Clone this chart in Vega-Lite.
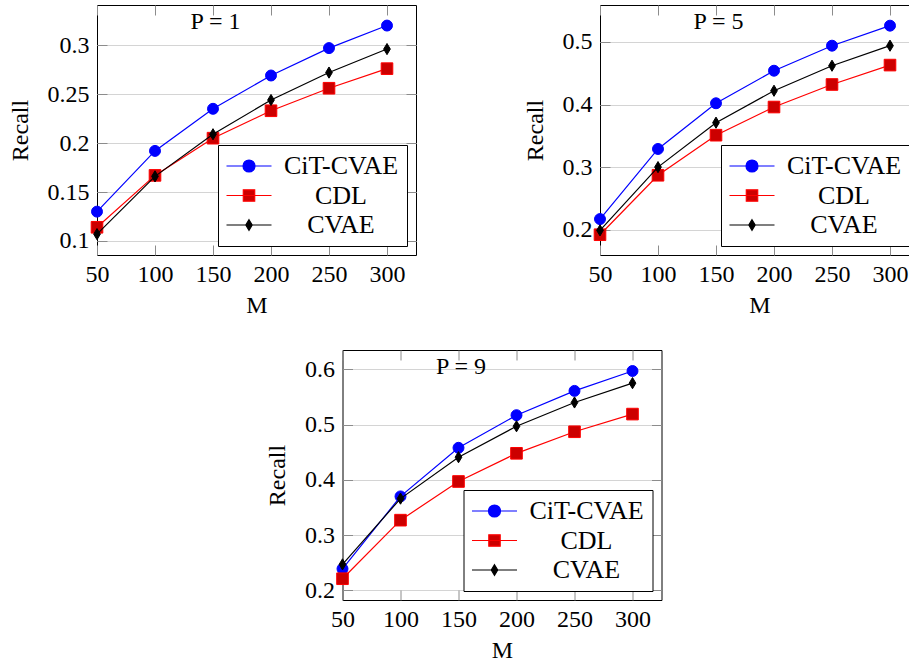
{
  "$schema": "https://vega.github.io/schema/vega-lite/v6.json",
  "padding": {"left": 7, "top": 4, "right": 0, "bottom": 0},
  "background": "white",
  "data": {"values": [
    {"P": 1, "M": 50, "method": "CiT-CVAE", "Recall": 0.130},
    {"P": 1, "M": 100, "method": "CiT-CVAE", "Recall": 0.192},
    {"P": 1, "M": 150, "method": "CiT-CVAE", "Recall": 0.235},
    {"P": 1, "M": 200, "method": "CiT-CVAE", "Recall": 0.269},
    {"P": 1, "M": 250, "method": "CiT-CVAE", "Recall": 0.297},
    {"P": 1, "M": 300, "method": "CiT-CVAE", "Recall": 0.320},
    {"P": 1, "M": 50, "method": "CDL", "Recall": 0.114},
    {"P": 1, "M": 100, "method": "CDL", "Recall": 0.167},
    {"P": 1, "M": 150, "method": "CDL", "Recall": 0.205},
    {"P": 1, "M": 200, "method": "CDL", "Recall": 0.233},
    {"P": 1, "M": 250, "method": "CDL", "Recall": 0.256},
    {"P": 1, "M": 300, "method": "CDL", "Recall": 0.276},
    {"P": 1, "M": 50, "method": "CVAE", "Recall": 0.107},
    {"P": 1, "M": 100, "method": "CVAE", "Recall": 0.166},
    {"P": 1, "M": 150, "method": "CVAE", "Recall": 0.209},
    {"P": 1, "M": 200, "method": "CVAE", "Recall": 0.244},
    {"P": 1, "M": 250, "method": "CVAE", "Recall": 0.272},
    {"P": 1, "M": 300, "method": "CVAE", "Recall": 0.296},
    {"P": 5, "M": 50, "method": "CiT-CVAE", "Recall": 0.217},
    {"P": 5, "M": 100, "method": "CiT-CVAE", "Recall": 0.329},
    {"P": 5, "M": 150, "method": "CiT-CVAE", "Recall": 0.402},
    {"P": 5, "M": 200, "method": "CiT-CVAE", "Recall": 0.454},
    {"P": 5, "M": 250, "method": "CiT-CVAE", "Recall": 0.494},
    {"P": 5, "M": 300, "method": "CiT-CVAE", "Recall": 0.526},
    {"P": 5, "M": 50, "method": "CDL", "Recall": 0.192},
    {"P": 5, "M": 100, "method": "CDL", "Recall": 0.287},
    {"P": 5, "M": 150, "method": "CDL", "Recall": 0.351},
    {"P": 5, "M": 200, "method": "CDL", "Recall": 0.396},
    {"P": 5, "M": 250, "method": "CDL", "Recall": 0.432},
    {"P": 5, "M": 300, "method": "CDL", "Recall": 0.463},
    {"P": 5, "M": 50, "method": "CVAE", "Recall": 0.199},
    {"P": 5, "M": 100, "method": "CVAE", "Recall": 0.300},
    {"P": 5, "M": 150, "method": "CVAE", "Recall": 0.371},
    {"P": 5, "M": 200, "method": "CVAE", "Recall": 0.422},
    {"P": 5, "M": 250, "method": "CVAE", "Recall": 0.462},
    {"P": 5, "M": 300, "method": "CVAE", "Recall": 0.494},
    {"P": 9, "M": 50, "method": "CiT-CVAE", "Recall": 0.239},
    {"P": 9, "M": 100, "method": "CiT-CVAE", "Recall": 0.370},
    {"P": 9, "M": 150, "method": "CiT-CVAE", "Recall": 0.458},
    {"P": 9, "M": 200, "method": "CiT-CVAE", "Recall": 0.517},
    {"P": 9, "M": 250, "method": "CiT-CVAE", "Recall": 0.561},
    {"P": 9, "M": 300, "method": "CiT-CVAE", "Recall": 0.597},
    {"P": 9, "M": 50, "method": "CDL", "Recall": 0.221},
    {"P": 9, "M": 100, "method": "CDL", "Recall": 0.327},
    {"P": 9, "M": 150, "method": "CDL", "Recall": 0.397},
    {"P": 9, "M": 200, "method": "CDL", "Recall": 0.448},
    {"P": 9, "M": 250, "method": "CDL", "Recall": 0.487},
    {"P": 9, "M": 300, "method": "CDL", "Recall": 0.519},
    {"P": 9, "M": 50, "method": "CVAE", "Recall": 0.247},
    {"P": 9, "M": 100, "method": "CVAE", "Recall": 0.366},
    {"P": 9, "M": 150, "method": "CVAE", "Recall": 0.441},
    {"P": 9, "M": 200, "method": "CVAE", "Recall": 0.497},
    {"P": 9, "M": 250, "method": "CVAE", "Recall": 0.540},
    {"P": 9, "M": 300, "method": "CVAE", "Recall": 0.575}
  ]},
  "vconcat": [
    {
      "hconcat": [
        {
          "width": 319, "height": 250,
          "title": {"text": "P = 1", "offset": 0, "dy": 29, "dx": -41},
          "transform": [{"filter": "datum.P == 1"}],
          "layer": [
            {
              "transform": [{"filter": "datum.method == 'CiT-CVAE'"}],
              "mark": {"type": "line", "color": "#0000ff", "strokeWidth": 1.2, "point": {"filled": true, "shape": "circle", "size": 120, "fill": "#0000ff", "stroke": "#0000ff", "strokeWidth": 1, "opacity": 1}},
              "encoding": {
                "x": {"field": "M", "type": "quantitative", "scale": {"domain": [50, 325], "nice": false, "zero": false}, "axis": {"values": [50, 100, 150, 200, 250, 300], "title": "M", "orient": "bottom"}},
                "y": {"field": "Recall", "type": "quantitative", "scale": {"domain": [0.0857, 0.341], "nice": false, "zero": false}, "axis": {"values": [0.1, 0.15, 0.2, 0.25, 0.3], "format": "~g", "title": "Recall", "orient": "left", "grid": true}}
              }
            },
            {
              "transform": [{"filter": "datum.method == 'CDL'"}],
              "mark": {"type": "line", "color": "#ff0000", "strokeWidth": 1.2, "point": {"filled": true, "shape": "square", "size": 135, "fill": "#cc0000", "stroke": "#ff0000", "strokeWidth": 1, "opacity": 1}},
              "encoding": {
                "x": {"field": "M", "type": "quantitative", "axis": null},
                "y": {"field": "Recall", "type": "quantitative", "axis": null}
              }
            },
            {
              "transform": [{"filter": "datum.method == 'CVAE'"}],
              "mark": {"type": "line", "color": "#000000", "strokeWidth": 1.2, "point": {"filled": true, "shape": "M0,-1L0.6,0L0,1L-0.6,0Z", "size": 125, "fill": "#000000", "stroke": "#000000", "strokeWidth": 1, "opacity": 1}},
              "encoding": {
                "x": {"field": "M", "type": "quantitative", "axis": null},
                "y": {"field": "Recall", "type": "quantitative", "axis": null}
              }
            },
            {
              "transform": [{"filter": "false"}],
              "mark": {"type": "point", "filled": true, "opacity": 1},
              "encoding": {
                "x": {"field": "M", "type": "quantitative", "axis": {"values": [50, 100, 150, 200, 250, 300], "orient": "top", "labels": false, "title": null, "grid": false}},
                "y": {"field": "Recall", "type": "quantitative", "axis": {"values": [0.1, 0.15, 0.2, 0.25, 0.3], "orient": "right", "labels": false, "title": null, "grid": false}},
                "fill": {"field": "method", "type": "nominal", "scale": {"domain": ["CiT-CVAE", "CDL", "CVAE"], "range": ["#0000ff", "#cc0000", "#000000"]}},
                "stroke": {"field": "method", "type": "nominal", "scale": {"domain": ["CiT-CVAE", "CDL", "CVAE"], "range": ["#0000ff", "#ff0000", "#000000"]}},
                "shape": {"field": "method", "type": "nominal", "scale": {"domain": ["CiT-CVAE", "CDL", "CVAE"], "range": ["M-2.25,0H2.25M0.6,0A0.6,0.6,0,1,1,-0.6,0A0.6,0.6,0,1,1,0.6,0Z", "M-2.25,0H2.25M-0.57,-0.57H0.57V0.57H-0.57Z", "M-2.25,0H2.25M0,-0.53L0.32,0L0,0.53L-0.32,0Z"]}}
              }
            }
          ],
          "resolve": {"axis": {"x": "independent", "y": "independent"}}
        },
        {
          "width": 319, "height": 250,
          "title": {"text": "P = 5", "offset": 0, "dy": 29, "dx": -41},
          "transform": [{"filter": "datum.P == 5"}],
          "layer": [
            {
              "transform": [{"filter": "datum.method == 'CiT-CVAE'"}],
              "mark": {"type": "line", "color": "#0000ff", "strokeWidth": 1.2, "point": {"filled": true, "shape": "circle", "size": 120, "fill": "#0000ff", "stroke": "#0000ff", "strokeWidth": 1, "opacity": 1}},
              "encoding": {
                "x": {"field": "M", "type": "quantitative", "scale": {"domain": [50, 325], "nice": false, "zero": false}, "axis": {"values": [50, 100, 150, 200, 250, 300], "title": "M", "orient": "bottom"}},
                "y": {"field": "Recall", "type": "quantitative", "scale": {"domain": [0.1596, 0.559], "nice": false, "zero": false}, "axis": {"values": [0.2, 0.3, 0.4, 0.5], "format": "~g", "title": "Recall", "orient": "left", "grid": true}}
              }
            },
            {
              "transform": [{"filter": "datum.method == 'CDL'"}],
              "mark": {"type": "line", "color": "#ff0000", "strokeWidth": 1.2, "point": {"filled": true, "shape": "square", "size": 135, "fill": "#cc0000", "stroke": "#ff0000", "strokeWidth": 1, "opacity": 1}},
              "encoding": {
                "x": {"field": "M", "type": "quantitative", "axis": null},
                "y": {"field": "Recall", "type": "quantitative", "axis": null}
              }
            },
            {
              "transform": [{"filter": "datum.method == 'CVAE'"}],
              "mark": {"type": "line", "color": "#000000", "strokeWidth": 1.2, "point": {"filled": true, "shape": "M0,-1L0.6,0L0,1L-0.6,0Z", "size": 125, "fill": "#000000", "stroke": "#000000", "strokeWidth": 1, "opacity": 1}},
              "encoding": {
                "x": {"field": "M", "type": "quantitative", "axis": null},
                "y": {"field": "Recall", "type": "quantitative", "axis": null}
              }
            },
            {
              "transform": [{"filter": "false"}],
              "mark": {"type": "point", "filled": true, "opacity": 1},
              "encoding": {
                "x": {"field": "M", "type": "quantitative", "axis": {"values": [50, 100, 150, 200, 250, 300], "orient": "top", "labels": false, "title": null, "grid": false}},
                "y": {"field": "Recall", "type": "quantitative", "axis": {"values": [0.2, 0.3, 0.4, 0.5], "orient": "right", "labels": false, "title": null, "grid": false}},
                "fill": {"field": "method", "type": "nominal", "scale": {"domain": ["CiT-CVAE", "CDL", "CVAE"], "range": ["#0000ff", "#cc0000", "#000000"]}},
                "stroke": {"field": "method", "type": "nominal", "scale": {"domain": ["CiT-CVAE", "CDL", "CVAE"], "range": ["#0000ff", "#ff0000", "#000000"]}},
                "shape": {"field": "method", "type": "nominal", "scale": {"domain": ["CiT-CVAE", "CDL", "CVAE"], "range": ["M-2.25,0H2.25M0.6,0A0.6,0.6,0,1,1,-0.6,0A0.6,0.6,0,1,1,0.6,0Z", "M-2.25,0H2.25M-0.57,-0.57H0.57V0.57H-0.57Z", "M-2.25,0H2.25M0,-0.53L0.32,0L0,0.53L-0.32,0Z"]}}
              }
            }
          ],
          "resolve": {"axis": {"x": "independent", "y": "independent"}}
        }
      ],
      "spacing": 105,
      "resolve": {"scale": {"fill": "independent", "stroke": "independent", "shape": "independent"}}
    },
    {
      "width": 319, "height": 250,
      "title": {"text": "P = 9", "offset": 0, "dy": 29, "dx": -41},
      "transform": [{"filter": "datum.P == 9"}],
      "layer": [
        {
          "transform": [{"filter": "datum.method == 'CiT-CVAE'"}],
          "mark": {"type": "line", "color": "#0000ff", "strokeWidth": 1.2, "point": {"filled": true, "shape": "circle", "size": 120, "fill": "#0000ff", "stroke": "#0000ff", "strokeWidth": 1, "opacity": 1}},
          "encoding": {
            "x": {"field": "M", "type": "quantitative", "scale": {"domain": [50, 325], "nice": false, "zero": false}, "axis": {"values": [50, 100, 150, 200, 250, 300], "title": "M", "orient": "bottom"}},
            "y": {"field": "Recall", "type": "quantitative", "scale": {"domain": [0.1825, 0.635], "nice": false, "zero": false}, "axis": {"values": [0.2, 0.3, 0.4, 0.5, 0.6], "format": "~g", "title": "Recall", "orient": "left", "grid": true}}
          }
        },
        {
          "transform": [{"filter": "datum.method == 'CDL'"}],
          "mark": {"type": "line", "color": "#ff0000", "strokeWidth": 1.2, "point": {"filled": true, "shape": "square", "size": 135, "fill": "#cc0000", "stroke": "#ff0000", "strokeWidth": 1, "opacity": 1}},
          "encoding": {
            "x": {"field": "M", "type": "quantitative", "axis": null},
            "y": {"field": "Recall", "type": "quantitative", "axis": null}
          }
        },
        {
          "transform": [{"filter": "datum.method == 'CVAE'"}],
          "mark": {"type": "line", "color": "#000000", "strokeWidth": 1.2, "point": {"filled": true, "shape": "M0,-1L0.6,0L0,1L-0.6,0Z", "size": 125, "fill": "#000000", "stroke": "#000000", "strokeWidth": 1, "opacity": 1}},
          "encoding": {
            "x": {"field": "M", "type": "quantitative", "axis": null},
            "y": {"field": "Recall", "type": "quantitative", "axis": null}
          }
        },
        {
          "transform": [{"filter": "false"}],
          "mark": {"type": "point", "filled": true, "opacity": 1},
          "encoding": {
            "x": {"field": "M", "type": "quantitative", "axis": {"values": [50, 100, 150, 200, 250, 300], "orient": "top", "labels": false, "title": null, "grid": false}},
            "y": {"field": "Recall", "type": "quantitative", "axis": {"values": [0.2, 0.3, 0.4, 0.5, 0.6], "orient": "right", "labels": false, "title": " ", "titleFontSize": 6, "titlePadding": 6, "grid": false}},
            "fill": {"field": "method", "type": "nominal", "scale": {"domain": ["CiT-CVAE", "CDL", "CVAE"], "range": ["#0000ff", "#cc0000", "#000000"]}},
            "stroke": {"field": "method", "type": "nominal", "scale": {"domain": ["CiT-CVAE", "CDL", "CVAE"], "range": ["#0000ff", "#ff0000", "#000000"]}},
            "shape": {"field": "method", "type": "nominal", "scale": {"domain": ["CiT-CVAE", "CDL", "CVAE"], "range": ["M-2.25,0H2.25M0.6,0A0.6,0.6,0,1,1,-0.6,0A0.6,0.6,0,1,1,0.6,0Z", "M-2.25,0H2.25M-0.57,-0.57H0.57V0.57H-0.57Z", "M-2.25,0H2.25M0,-0.53L0.32,0L0,0.53L-0.32,0Z"]}}
          }
        }
      ],
      "resolve": {"axis": {"x": "independent", "y": "independent"}}
    }
  ],
  "spacing": 31,
  "center": true,
  "resolve": {"scale": {"fill": "independent", "stroke": "independent", "shape": "independent"}},
  "config": {
    "font": "Liberation Serif",
    "view": {"stroke": "black", "strokeWidth": 1},
    "title": {"font": "Liberation Serif", "fontSize": 24, "fontWeight": "normal", "color": "black", "anchor": "middle", "baseline": "middle"},
    "axis": {
      "labelFont": "Liberation Serif", "labelFontSize": 24, "labelColor": "black", "labelFlush": false,
      "titleFont": "Liberation Serif", "titleFontSize": 24, "titleFontWeight": "normal", "titleColor": "black",
      "domain": false, "ticks": true, "tickColor": "#8c8c8c", "tickSize": -10, "tickWidth": 1,
      "grid": false, "gridColor": "#d4d4d4", "gridWidth": 1,
      "labelPadding": 17, "titlePadding": 7
    },
    "axisLeft": {"labelPadding": 18, "titlePadding": 15},
    "axisRight": {"labelPadding": 18},
    "legend": {
      "orient": "bottom-right", "offset": 9, "title": null,
      "fillColor": "white", "strokeColor": "black", "padding": 8, "cornerRadius": 0,
      "labelFont": "Liberation Serif", "labelFontSize": 26, "labelColor": "black",
      "symbolSize": 400, "symbolStrokeWidth": 1.2, "symbolOffset": 10, "labelOffset": 79, "labelAlign": "center",
      "rowPadding": 3.5
    }
  }
}
